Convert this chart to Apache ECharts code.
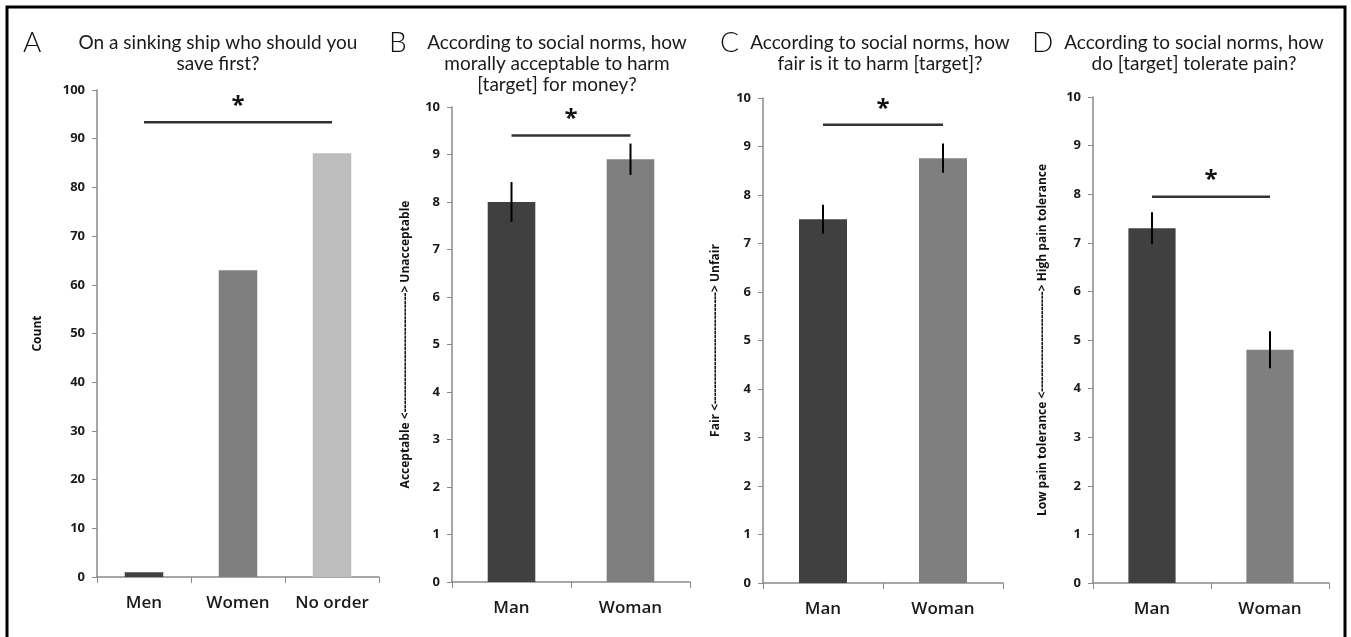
<!DOCTYPE html>
<html>
<head>
<meta charset="utf-8">
<script src="https://cdn.jsdelivr.net/npm/echarts@6/dist/echarts.min.js"></script>
<style>
html,body{margin:0;padding:0;background:#fff;}
#c{width:1351px;height:637px;}
</style>
</head>
<body>
<div id="c"></div>
<script>
// ---- data ----
const catsA = ['Men', 'Women', 'No order'];
const valsA = [1, 63, 87];
const sigA = [[0, 2, 93.4]];

const catsG = ['Man', 'Woman'];
const valsB = [8.0, 8.9];
const errB = [0.42, 0.33];
const sigB = [[0, 1, 9.4]];

const valsC = [7.5, 8.76];
const errC = [0.3, 0.3];
const sigC = [[0, 1, 9.45]];

const valsD = [7.3, 4.8];
const errD = [0.33, 0.38];
const sigD = [[0, 1, 7.95]];

const yTicksA = {min: 0, max: 100, interval: 10};
const yTicksG = {min: 0, max: 10, interval: 1};

const titles = [
  ['A', 'On a sinking ship who should you\nsave first?'],
  ['B', 'According to social norms, how\nmorally acceptable to harm\n[target] for money?'],
  ['C', 'According to social norms, how\nfair is it to harm [target]?'],
  ['D', 'According to social norms, how\ndo [target] tolerate pain?']
];
const yNames = [
  'Count',
  'Acceptable <-------------------------------> Unacceptable',
  'Fair <-----------------------------> Unfair',
  'Low pain tolerance <--------------------------> High pain tolerance'
];

// ---- styles ----
const FONT = 'Lato, "Open Sans", sans-serif';
const BFONT = '"Open Sans", "Noto Sans", sans-serif';
const DARK = '#404040', MID = '#7f7f7f', LIGHT = '#bdbdbd';
const AXIS = '#8a8a8a';

const grids = [
  {left: 97, top: 90, width: 282, height: 487},
  {left: 452, top: 107, width: 238, height: 475},
  {left: 763, top: 98, width: 240, height: 485},
  {left: 1093, top: 97, width: 236, height: 486}
];
const nameGaps = [53, 40, 41, 44];
const titlePos = [[218, 23], [557, 389], [880, 720], [1194, 1032]];

function xAxis(i, cats) {
  return {
    type: 'category', gridIndex: i, data: cats,
    axisLine: {lineStyle: {color: AXIS, width: 1.5}},
    axisTick: {show: true, length: 6, lineStyle: {color: AXIS}},
    axisLabel: {interval: 0, color: '#1a1a1a', fontSize: 17, fontFamily: BFONT, fontWeight: 600, margin: 18}
  };
}
function yAxis(i, t) {
  return {
    type: 'value', gridIndex: i, min: t.min, max: t.max, interval: t.interval,
    name: yNames[i], nameLocation: 'middle', nameGap: nameGaps[i], nameRotate: 90,
    nameTextStyle: {color: '#111', fontSize: 12, fontWeight: 'bold', fontFamily: BFONT},
    axisLine: {show: true, lineStyle: {color: AXIS, width: 1.5}},
    axisTick: {show: true, length: 5, lineStyle: {color: AXIS}},
    splitLine: {show: false},
    axisLabel: {color: '#1a1a1a', fontSize: 13, fontWeight: 'bold', fontFamily: BFONT, margin: 12}
  };
}
function bars(i, vals, colors, bw) {
  return {
    type: 'bar', xAxisIndex: i, yAxisIndex: i, barWidth: bw,
    data: vals.map((v, k) => ({value: v, itemStyle: {color: colors[k]}})),
    z: 2
  };
}
function errs(i, vals, err) {
  return {
    type: 'custom', xAxisIndex: i, yAxisIndex: i, z: 3,
    data: vals.map((v, k) => [k, v - err[k], v + err[k]]),
    renderItem: function (params, api) {
      const lo = api.coord([api.value(0), api.value(1)]);
      const hi = api.coord([api.value(0), api.value(2)]);
      return {type: 'line', shape: {x1: lo[0], y1: lo[1], x2: hi[0], y2: hi[1]},
        style: {stroke: '#000', lineWidth: 2}};
    }
  };
}
function sig(i, d) {
  return {
    type: 'custom', xAxisIndex: i, yAxisIndex: i, z: 4,
    data: d,
    renderItem: function (params, api) {
      const p0 = api.coord([api.value(0), api.value(2)]);
      const p1 = api.coord([api.value(1), api.value(2)]);
      return {type: 'group', children: [
        {type: 'line', shape: {x1: p0[0], y1: p0[1], x2: p1[0], y2: p1[1]},
          style: {stroke: '#333', lineWidth: 2.5}},
        {type: 'text', x: (p0[0] + p1[0]) / 2, y: p0[1] - 4,
          style: {text: '*', fill: '#111', font: 'bold 24px ' + BFONT, align: 'center', verticalAlign: 'bottom'}}
      ]};
    }
  };
}

const graphics = [
  {type: 'rect', shape: {x: 7, y: 7, width: 1338, height: 660},
    style: {fill: 'none', stroke: '#000', lineWidth: 3}, silent: true}
];
titles.forEach((t, i) => {
  const p = titlePos[i];
  graphics.push({type: 'text', x: p[1], y: 43,
    style: {text: t[0], fill: '#111', font: '300 28px ' + FONT, align: 'left', verticalAlign: 'middle'}});
  graphics.push({type: 'text', x: p[0], y: 32,
    style: {text: t[1], fill: '#1a1a1a', font: '19px ' + FONT, align: 'center', verticalAlign: 'top', lineHeight: 21}});
});

const option = {
  backgroundColor: '#fff',
  animation: false,
  grid: grids,
  xAxis: [xAxis(0, catsA), xAxis(1, catsG), xAxis(2, catsG), xAxis(3, catsG)],
  yAxis: [yAxis(0, yTicksA), yAxis(1, yTicksG), yAxis(2, yTicksG), yAxis(3, yTicksG)],
  series: [
    bars(0, valsA, [DARK, MID, LIGHT], '41%'), sig(0, sigA),
    bars(1, valsB, [DARK, MID], '40%'), errs(1, valsB, errB), sig(1, sigB),
    bars(2, valsC, [DARK, MID], '40%'), errs(2, valsC, errC), sig(2, sigC),
    bars(3, valsD, [DARK, MID], '40%'), errs(3, valsD, errD), sig(3, sigD)
  ],
  graphic: graphics
};
const chart = echarts.init(document.getElementById('c'), null, {renderer: 'canvas'});
chart.setOption(option);
</script>
</body>
</html>
